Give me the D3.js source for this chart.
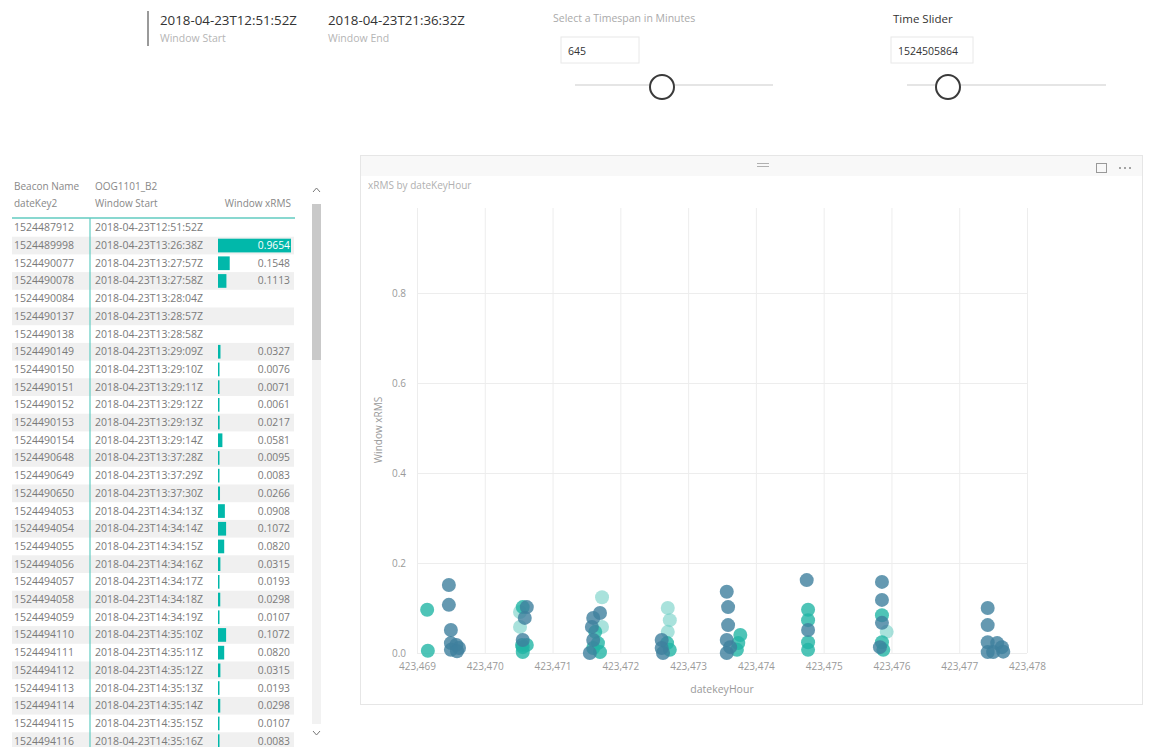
<!DOCTYPE html>
<html><head><meta charset="utf-8">
<script src="https://cdn.jsdelivr.net/npm/d3@7"></script>
<style>
html,body{margin:0;padding:0;background:#fff;}
svg{display:block;font-family:"Open Sans",sans-serif;}
</style></head>
<body>
<svg id="c" width="1159" height="747"></svg>
<script>
// ---------- data ----------
const windowStart = "2018-04-23T12:51:52Z";
const windowEnd = "2018-04-23T21:36:32Z";
const timespanMinutes = "645";
const timeSliderValue = "1524505864";

const tableKeys = ["1524487912","1524489998","1524490077","1524490078","1524490084","1524490137","1524490138","1524490149","1524490150","1524490151","1524490152","1524490153","1524490154","1524490648","1524490649","1524490650","1524494053","1524494054","1524494055","1524494056","1524494057","1524494058","1524494059","1524494110","1524494111","1524494112","1524494113","1524494114","1524494115","1524494116"];
const tableStarts = ["2018-04-23T12:51:52Z","2018-04-23T13:26:38Z","2018-04-23T13:27:57Z","2018-04-23T13:27:58Z","2018-04-23T13:28:04Z","2018-04-23T13:28:57Z","2018-04-23T13:28:58Z","2018-04-23T13:29:09Z","2018-04-23T13:29:10Z","2018-04-23T13:29:11Z","2018-04-23T13:29:12Z","2018-04-23T13:29:13Z","2018-04-23T13:29:14Z","2018-04-23T13:37:28Z","2018-04-23T13:37:29Z","2018-04-23T13:37:30Z","2018-04-23T14:34:13Z","2018-04-23T14:34:14Z","2018-04-23T14:34:15Z","2018-04-23T14:34:16Z","2018-04-23T14:34:17Z","2018-04-23T14:34:18Z","2018-04-23T14:34:19Z","2018-04-23T14:35:10Z","2018-04-23T14:35:11Z","2018-04-23T14:35:12Z","2018-04-23T14:35:13Z","2018-04-23T14:35:14Z","2018-04-23T14:35:15Z","2018-04-23T14:35:16Z"];
const tableXrms = [null,0.9654,0.1548,0.1113,null,null,null,0.0327,0.0076,0.0071,0.0061,0.0217,0.0581,0.0095,0.0083,0.0266,0.0908,0.1072,0.0820,0.0315,0.0193,0.0298,0.0107,0.1072,0.0820,0.0315,0.0193,0.0298,0.0107,0.0083];

const xTickValues = [423469,423470,423471,423472,423473,423474,423475,423476,423477,423478];
const yTickValues = [0,0.2,0.4,0.6,0.8];

const bluePoints = [[423469.47,0.151],[423469.47,0.107],[423469.50,0.051],[423469.50,0.022],[423469.58,0.018],[423469.62,0.011],[423469.50,0.007],[423469.59,0.004],
[423470.62,0.102],[423470.59,0.078],[423470.56,0.029],
[423471.70,0.089],[423471.60,0.078],[423471.58,0.058],[423471.60,0.029],[423471.55,0.0],
[423472.61,0.029],[423472.61,0.011],[423472.63,0.0],
[423473.57,0.136],[423473.59,0.102],[423473.59,0.062],[423473.57,0.029],[423473.62,0.013],[423473.57,0.0],
[423474.75,0.162],[423474.77,0.051],
[423475.86,0.158],[423475.86,0.118],[423475.86,0.067],[423475.83,0.013],
[423477.42,0.100],[423477.42,0.062],[423477.42,0.024],[423477.56,0.022],[423477.63,0.013],[423477.50,0.002],[423477.42,0.002],[423477.65,0.003]];
const tealPoints = [[423469.15,0.096],[423469.16,0.005],
[423470.56,0.102],[423470.55,0.018],[423470.56,0.013],[423470.56,0.002],[423470.62,0.018],
[423471.63,0.047],[423471.67,0.022],[423471.60,0.011],[423471.70,0.002],
[423472.69,0.022],[423472.73,0.007],
[423473.77,0.040],[423473.74,0.022],[423473.72,0.007],
[423474.77,0.096],[423474.77,0.073],[423474.77,0.024],[423474.77,0.007],
[423475.86,0.084],[423475.86,0.024],[423475.88,0.007]];
const lightPoints = [[423470.52,0.091],[423470.52,0.058],[423471.73,0.124],[423471.73,0.058],[423472.70,0.100],[423472.73,0.073],[423472.70,0.047],[423475.93,0.047]];

// ---------- drawing ----------
const svg = d3.select("#c");

// top header
svg.append("rect").attr("x",147).attr("y",11).attr("width",2).attr("height",35).attr("fill","#9a9a9a");
const hdr = [[160,windowStart,"Window Start"],[328,windowEnd,"Window End"]];
hdr.forEach(h=>{
  svg.append("text").attr("x",h[0]).attr("y",25).attr("font-size",13.3).attr("fill","#333").text(h[1]);
  svg.append("text").attr("x",h[0]).attr("y",42).attr("font-size",10.5).attr("fill","#b5b5b5").text(h[2]);
});
svg.append("text").attr("x",553).attr("y",22).attr("font-size",10.5).attr("fill","#aaa").text("Select a Timespan in Minutes");
svg.append("text").attr("x",893).attr("y",23).attr("font-size",11.5).attr("fill","#333").text("Time Slider");
[[561,78,timespanMinutes,575,773,662],[891,82,timeSliderValue,907,1106,948]].forEach(s=>{
  svg.append("rect").attr("x",s[0]).attr("y",37).attr("width",s[1]).attr("height",26).attr("fill","#fff").attr("stroke","#e8e8e8");
  svg.append("text").attr("x",s[0]+7).attr("y",55).attr("font-size",10.5).attr("fill","#333").text(s[2]);
  svg.append("line").attr("x1",s[3]).attr("x2",s[4]).attr("y1",85).attr("y2",85).attr("stroke","#dcdcdc").attr("stroke-width",1.5);
  svg.append("circle").attr("cx",s[5]).attr("cy",87).attr("r",12).attr("fill","#fff").attr("stroke","#3a3a3a").attr("stroke-width",2);
});

// ---------- table ----------
const rowBand = d3.scaleBand().domain(d3.range(tableKeys.length)).range([219, 219 + 17.7*tableKeys.length]);
const barScale = d3.scaleLinear().domain([0, d3.max(tableXrms)]).range([0, 73]);
const tg = svg.append("g");
tg.append("text").attr("x",14).attr("y",190).attr("font-size",10).attr("fill","#888").text("Beacon Name");
tg.append("text").attr("x",95).attr("y",190).attr("font-size",10).attr("fill","#888").text("OOG1101_B2");
tg.append("text").attr("x",14).attr("y",207).attr("font-size",10).attr("fill","#888").text("dateKey2");
tg.append("text").attr("x",95).attr("y",207).attr("font-size",10).attr("fill","#888").text("Window Start");
tg.append("text").attr("x",291).attr("y",207).attr("text-anchor","end").attr("font-size",10).attr("fill","#888").text("Window xRMS");

const rows = tg.selectAll("g.row").data(tableKeys.map((k,i)=>({i,k,s:tableStarts[i],v:tableXrms[i]}))).join("g").attr("class","row");
rows.filter(d=>d.i%2===1).append("rect").attr("x",12).attr("y",d=>rowBand(d.i)).attr("width",282).attr("height",rowBand.bandwidth()).attr("fill","#f0f0f0");
rows.filter(d=>d.v!==null).append("rect").attr("x",218).attr("y",d=>rowBand(d.i)+2).attr("width",d=>Math.max(1.5,barScale(d.v))).attr("height",rowBand.bandwidth()-4).attr("fill","#01B8AA");
rows.append("text").attr("x",14).attr("y",d=>rowBand(d.i)+rowBand.bandwidth()/2+3.5).attr("font-size",10.5).attr("fill","#7a7a7a").text(d=>d.k);
rows.append("text").attr("x",95).attr("y",d=>rowBand(d.i)+rowBand.bandwidth()/2+3.5).attr("font-size",10.5).attr("fill","#7a7a7a").text(d=>d.s);
rows.filter(d=>d.v!==null).append("text").attr("x",290).attr("text-anchor","end").attr("y",d=>rowBand(d.i)+rowBand.bandwidth()/2+3.5).attr("font-size",10.3)
  .attr("fill",d=>d.v===d3.max(tableXrms)?"#fff":"#7a7a7a").text(d=>d.v.toFixed(4));
tg.append("line").attr("x1",12).attr("x2",295).attr("y1",218).attr("y2",218).attr("stroke","#62cbc1").attr("stroke-width",1.5);
tg.append("line").attr("x1",90).attr("x2",90).attr("y1",218).attr("y2",747).attr("stroke","#62cbc1").attr("stroke-width",1.2);
// scrollbar
tg.append("rect").attr("x",312).attr("y",204).attr("width",9).attr("height",520).attr("fill","#f2f2f2");
tg.append("rect").attr("x",312).attr("y",204).attr("width",9).attr("height",156).attr("fill","#c9c9c9");
tg.append("path").attr("d","M313,192 L316.5,188 L320,192").attr("fill","none").attr("stroke","#777").attr("stroke-width",1);
tg.append("path").attr("d","M313,731 L316.5,735 L320,731").attr("fill","none").attr("stroke","#777").attr("stroke-width",1);

// ---------- chart card ----------
svg.append("rect").attr("x",360.5).attr("y",155.5).attr("width",782).attr("height",549).attr("fill","#fff").attr("stroke","#e6e6e6");
svg.append("rect").attr("x",361).attr("y",156).attr("width",781).attr("height",20).attr("fill","#f8f8f8");
svg.append("path").attr("d","M757,163.5 H769 M757,166.5 H769").attr("stroke","#b0b0b0").attr("stroke-width",1);
svg.append("rect").attr("x",1096.5).attr("y",163.5).attr("width",10).attr("height",9).attr("fill","none").attr("stroke","#999");
svg.append("path").attr("d","M1100,163.5 L1106.5,163.5 L1106.5,169").attr("fill","none").attr("stroke","#999");
[1120,1125,1130].forEach(x=>svg.append("circle").attr("cx",x).attr("cy",168).attr("r",1).attr("fill","#888"));
svg.append("text").attr("x",368).attr("y",189).attr("font-size",10).attr("fill","#b0b0b0").text("xRMS by dateKeyHour");

const x = d3.scaleLinear().domain([423469,423478]).range([417,1027]);
const y = d3.scaleLinear().domain([0,1]).range([653,203]);

const gx = svg.append("g").attr("transform","translate(0,653)")
  .call(d3.axisBottom(x).tickValues(xTickValues).tickFormat(d3.format(",")).tickSize(-445).tickPadding(10));
gx.select(".domain").remove();
gx.selectAll(".tick line").attr("stroke","#ededed");
gx.selectAll(".tick text").attr("fill","#9a9a9a").attr("font-size",10).attr("font-family","Open Sans, sans-serif");

const gy = svg.append("g").attr("transform","translate(417,0)")
  .call(d3.axisLeft(y).tickValues(yTickValues).tickFormat(d3.format(".1f")).tickSize(-610).tickPadding(11));
gy.select(".domain").remove();
gy.selectAll(".tick line").attr("stroke","#ededed");
gy.selectAll(".tick text").attr("fill","#9a9a9a").attr("font-size",10).attr("font-family","Open Sans, sans-serif");

svg.append("text").attr("transform","translate(382,430) rotate(-90)").attr("text-anchor","middle").attr("font-size",10).attr("fill","#999").text("Window xRMS");
svg.append("text").attr("x",722).attr("y",693).attr("text-anchor","middle").attr("font-size",10.5).attr("fill","#999").text("datekeyHour");

const pg = svg.append("g");
const drawPts = (pts, col, op) => pg.append("g").selectAll("circle").data(pts).join("circle")
  .attr("cx",d=>x(d[0])).attr("cy",d=>y(d[1])).attr("r",7).attr("fill",col).attr("fill-opacity",op);
drawPts(lightPoints,"#6fcfc4",0.6);
drawPts(tealPoints,"#22b5a5",0.8);
drawPts(bluePoints,"#3f7f9e",0.8);
</script>
</body></html>
